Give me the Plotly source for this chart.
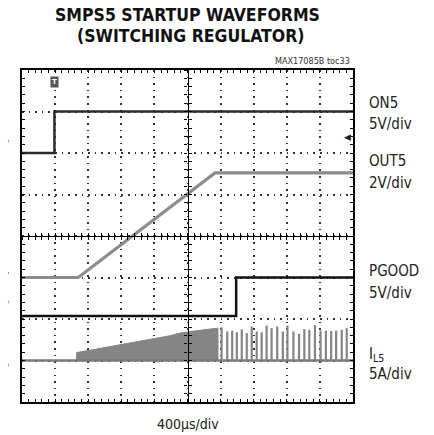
import plotly.graph_objects as go

# ---------------- data (in scope divisions: 10 x 8 grid) ----------------
on5_t = [0.0, 0.98, 0.98, 10.0]
on5_v = [6.0, 6.0, 7.0, 7.0]

out5_t = [0.0, 1.70, 5.83, 10.0]
out5_v = [3.0, 3.0, 5.52, 5.52]

pgood_t = [0.0, 6.47, 6.47, 10.0]
pgood_v = [2.07, 2.07, 3.0, 3.0]

il5_base = 1.0
il5_env_t = [1.65, 1.65, 2.0, 2.5, 3.0, 3.5, 4.0, 4.5, 4.77, 5.0, 5.5, 5.92]
il5_env_v = [1.0, 1.19, 1.24, 1.30, 1.39, 1.46, 1.52, 1.60, 1.66, 1.68, 1.74, 1.78]

spike_t = [6.03, 6.20, 6.35, 6.49, 6.64, 6.79, 6.94, 7.09, 7.24, 7.39, 7.54, 7.71, 7.88,
           8.02, 8.20, 8.37, 8.53, 8.68, 8.85, 9.02, 9.18, 9.34, 9.49, 9.66, 9.81]
spike_v = [1.80, 1.70, 1.72, 1.68, 1.75, 1.66, 1.82, 1.70, 1.68, 1.84, 1.78, 1.82, 1.70,
           1.84, 1.70, 1.64, 1.76, 1.74, 1.85, 1.72, 1.72, 1.71, 1.72, 1.74, 1.78]

right_labels = ["ON5", "5V/div", "OUT5", "2V/div", "PGOOD", "5V/div", "I<sub>L5</sub>", "5A/div"]
right_label_py = [103, 124, 161, 183, 271, 293, 354, 374]
left_labels = ["0V", "0V", "0V", "0A"]
left_label_py = [147, 279, 308, 361]

# ---------------- geometry ----------------
# the page body has an 8px margin, so the figure is made 8px smaller
OFF = 8
W, H = 434 - OFF, 435 - OFF
L0, T0, PW, PH = 22, 70, 331, 332          # plot area in window pixels
L, T = L0 - OFF, T0 - OFF
R = W - L - PW
B = H - T - PH

def px(xp):
    return (xp - L0) / PW

def py(yp):
    return (T0 + PH - yp) / PH

FONT = "DejaVu Sans Condensed, Liberation Sans Narrow, DejaVu Sans, sans-serif"

fig = go.Figure()

# IL5 dense region (filled)
fx = [0.0] + il5_env_t + [il5_env_t[-1]]
fy = [il5_base] + il5_env_v + [il5_base]
fig.add_trace(go.Scatter(x=fx, y=fy, mode="lines", fill="toself",
                         fillcolor="#858585", line=dict(color="#858585", width=1),
                         hoverinfo="skip", showlegend=False))
# IL5 baseline
fig.add_trace(go.Scatter(x=[0.0, 10.0], y=[il5_base, il5_base], mode="lines",
                         line=dict(color="#7a7a7a", width=2.5), hoverinfo="skip", showlegend=False))
# IL5 pulses
sx, sy = [], []
for t, v in zip(spike_t, spike_v):
    sx += [t, t, None]
    sy += [il5_base, v, None]
fig.add_trace(go.Scatter(x=sx, y=sy, mode="lines", line=dict(color="#858585", width=2.2),
                         hoverinfo="skip", showlegend=False))
# OUT5
fig.add_trace(go.Scatter(x=out5_t, y=out5_v, mode="lines", line=dict(color="#8c8c8c", width=3.2),
                         hoverinfo="skip", showlegend=False))
# ON5
fig.add_trace(go.Scatter(x=on5_t, y=on5_v, mode="lines", line=dict(color="#2b2b2b", width=2.5),
                         hoverinfo="skip", showlegend=False))
# PGOOD
fig.add_trace(go.Scatter(x=pgood_t, y=pgood_v, mode="lines", line=dict(color="#111111", width=2.5),
                         hoverinfo="skip", showlegend=False))

# dummy traces to create centre-line axes
for xa, ya in [("x2", "y"), ("x3", "y"), ("x", "y2"), ("x", "y3")]:
    fig.add_trace(go.Scatter(x=[None], y=[None], xaxis=xa, yaxis=ya, showlegend=False, hoverinfo="skip"))

dot = "1.6px,5.02px"
main_axis = dict(showline=True, linecolor="black", linewidth=2, mirror="ticks",
                 ticks="inside", ticklen=3, tickwidth=1, tickcolor="black",
                 showticklabels=False, showgrid=True, gridcolor="#333333", gridwidth=1.5,
                 griddash=dot, zeroline=False, dtick=1,
                 minor=dict(ticks="inside", ticklen=3, tickwidth=1, tickcolor="black",
                            dtick=0.2, showgrid=False))

centre = dict(showline=True, linecolor="black", linewidth=1.3, ticklen=3, tickwidth=1,
              tickcolor="black", showticklabels=False, showgrid=False, zeroline=False,
              dtick=1, anchor="free", position=0.5)

def centre_axis(rng, side):
    return dict(range=rng, ticks=side,
                minor=dict(ticks=side, ticklen=3, tickwidth=1, tickcolor="black", dtick=0.2),
                **centre)

fig.update_layout(
    width=W, height=H, margin=dict(l=L, r=R, t=T, b=B, autoexpand=False),
    paper_bgcolor="white", plot_bgcolor="white",
    xaxis=dict(range=[0, 10], **main_axis),
    yaxis=dict(range=[0, 8], **main_axis),
    xaxis2=dict(overlaying="x", **centre_axis([0, 10], "outside")),
    xaxis3=dict(overlaying="x", **centre_axis([0, 10], "inside")),
    yaxis2=dict(overlaying="y", **centre_axis([0, 8], "outside")),
    yaxis3=dict(overlaying="y", **centre_axis([0, 8], "inside")),
    showlegend=False,
)

ann = []
ann.append(dict(text="<b>SMPS5 STARTUP WAVEFORMS</b>", x=px(187), y=py(15), xref="paper", yref="paper",
                xanchor="center", yanchor="middle", showarrow=False,
                font=dict(family=FONT, size=17.5, color="#111")))
ann.append(dict(text="<b>(SWITCHING REGULATOR)</b>", x=px(191), y=py(36), xref="paper", yref="paper",
                xanchor="center", yanchor="middle", showarrow=False,
                font=dict(family=FONT, size=17.5, color="#111")))
ann.append(dict(text="MAX17085B toc33", x=px(352), y=py(61), xref="paper", yref="paper",
                xanchor="right", yanchor="middle", showarrow=False,
                font=dict(family=FONT, size=9, color="#333")))
for txt, yp in zip(right_labels, right_label_py):
    ann.append(dict(text=txt, x=px(367), y=py(yp), xref="paper", yref="paper",
                    xanchor="left", yanchor="middle", showarrow=False,
                    font=dict(family=FONT, size=15, color="#222")))
for txt, yp in zip(left_labels, left_label_py):
    ann.append(dict(text=txt, x=px(12), y=py(yp), xref="paper", yref="paper",
                    xanchor="right", yanchor="middle", showarrow=False,
                    font=dict(family=FONT, size=15, color="#222")))
ann.append(dict(text="400µs/div", x=px(187.5), y=py(424), xref="paper", yref="paper",
                xanchor="center", yanchor="middle", showarrow=False,
                font=dict(family=FONT, size=14, color="#222")))
# trigger markers
ann.append(dict(text="<b>T</b>", x=0.98, y=py(82), xref="x", yref="paper",
                xanchor="center", yanchor="middle", showarrow=False,
                bgcolor="#555555", borderpad=1,
                font=dict(family="DejaVu Sans", size=7, color="white")))
ann.append(dict(text="◀", x=10, y=py(137), xref="x", yref="paper",
                xanchor="right", yanchor="middle", showarrow=False,
                font=dict(family="DejaVu Sans", size=9, color="#222")))
fig.update_layout(annotations=ann)

fig.write_html("out.html")
